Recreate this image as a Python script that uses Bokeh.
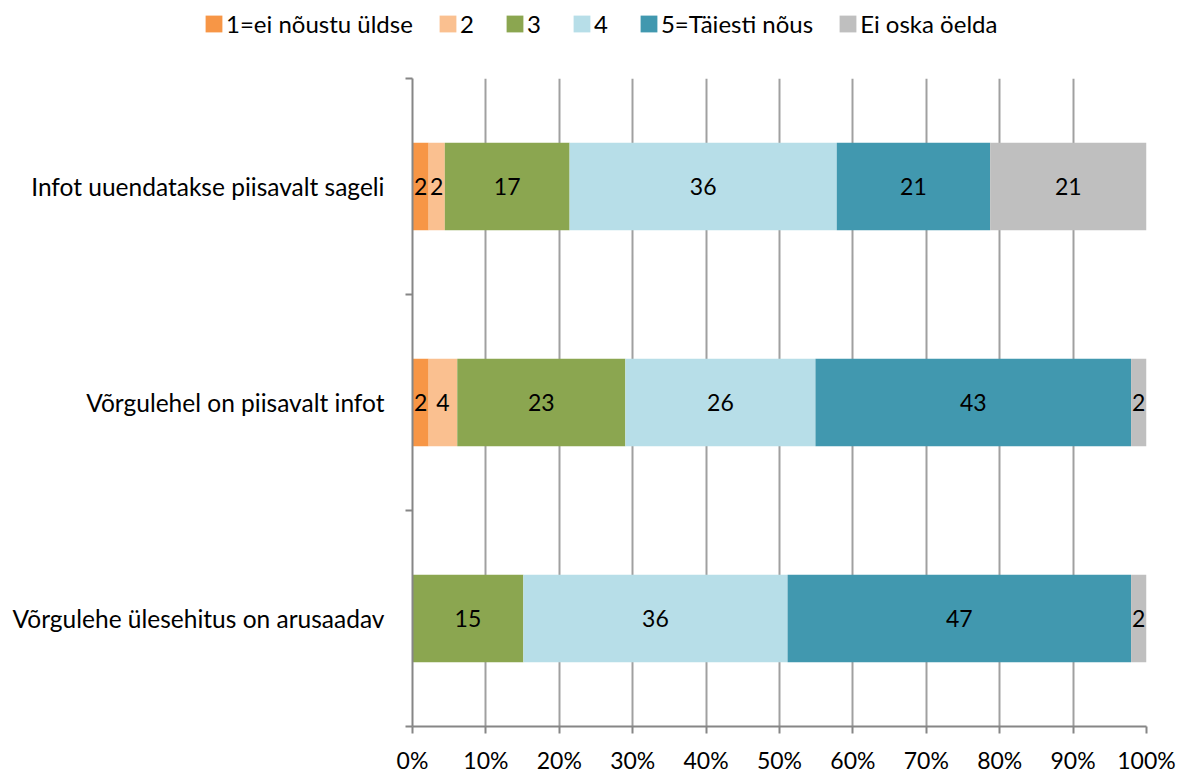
from bokeh.plotting import figure
from bokeh.layouts import column
from bokeh.models import (ColumnDataSource, FixedTicker, PrintfTickFormatter,
                          Legend, LegendItem, Range1d)
from bokeh.core.properties import value
from bokeh.embed import file_html
from bokeh.resources import INLINE

categories = ["Infot uuendatakse piisavalt sageli",
              "Võrgulehel on piisavalt infot",
              "Võrgulehe ülesehitus on arusaadav"]
series_names = ["1=ei nõustu üldse", "2", "3", "4", "5=Täiesti nõus", "Ei oska öelda"]
s1 = [2.2, 2.2, 0.0]
s2 = [2.2, 3.9, 0.0]
s3 = [17.0, 22.9, 15.1]
s4 = [36.4, 25.9, 36.0]
s5 = [20.9, 43.0, 46.8]
s6 = [21.3, 2.1, 2.1]
x_ticks = [0, 10, 20, 30, 40, 50, 60, 70, 80, 90, 100]

colors = ["#F79646", "#FAC090", "#8BA650", "#B7DEE8", "#4198AF", "#BFBFBF"]
FONT = "Lato"
W = 1179
LEG_H = 50

series = [s1, s2, s3, s4, s5, s6]
n = len(categories)
ypos = [n - i - 0.5 for i in range(n)]

p = figure(width=W, height=776 - LEG_H, output_backend="svg", toolbar_location=None,
           x_range=Range1d(0, 100), y_range=Range1d(0, 3), frame_align=False,
           min_border_left=412, min_border_right=W - 1146, min_border_top=78 - LEG_H,
           min_border_bottom=46)
p.outline_line_color = None
p.background_fill_color = "white"
p.border_fill_color = "white"

left = [0.0] * n
for name, vals, col in zip(series_names, series, colors):
    right = [l + v for l, v in zip(left, vals)]
    src = ColumnDataSource(dict(y=ypos, left=left, right=right, v=vals,
                                mid=[(l + r) / 2 for l, r in zip(left, right)],
                                lab=[str(int(round(v))) if v > 0 else "" for v in vals]))
    p.hbar(y="y", left="left", right="right", height=0.405, source=src,
           fill_color=col, line_color=None)
    p.text(x="mid", y="y", text="lab", source=src, text_align="center",
           text_baseline="middle", text_font=value(FONT), text_font_size="23px",
           text_color="black")
    left = right

# axes
xa = p.xaxis[0]
xa.ticker = FixedTicker(ticks=x_ticks)
xa.formatter = PrintfTickFormatter(format="%d%%")
xa.axis_line_color = "#868686"
xa.axis_line_width = 2
xa.major_tick_line_color = "#868686"
xa.major_tick_line_width = 2
xa.major_tick_out = 7
xa.major_tick_in = 0
xa.minor_tick_line_color = None
xa.major_label_text_font = FONT
xa.major_label_text_font_size = "23px"
xa.major_label_text_color = "black"
xa.major_label_standoff = 12

ya = p.yaxis[0]
ya.ticker = FixedTicker(ticks=ypos, minor_ticks=[0, 1, 2, 3])
ya.major_label_overrides = {y: c for y, c in zip(ypos, categories)}
ya.axis_line_color = "#868686"
ya.axis_line_width = 2
ya.major_tick_line_color = None
ya.major_tick_out = 0
ya.major_tick_in = 0
ya.minor_tick_line_color = "#868686"
ya.minor_tick_line_width = 2
ya.minor_tick_out = 7
ya.minor_tick_in = 0
ya.major_label_text_font = FONT
ya.major_label_text_font_size = "24.5px"
ya.major_label_text_color = "black"
ya.major_label_standoff = 21

p.xgrid.ticker = FixedTicker(ticks=x_ticks)
p.xgrid.grid_line_color = "#A0A0A0"
p.xgrid.grid_line_width = 2
p.ygrid.grid_line_color = None

# legend strip on top (proxy glyphs lie outside the strip's visible range)
lf = figure(width=W, height=LEG_H, output_backend="svg", toolbar_location=None,
            x_range=Range1d(0, 1), y_range=Range1d(0, 1), frame_align=False,
            min_border=0, min_border_left=0, min_border_right=0,
            min_border_top=0, min_border_bottom=0)
lf.axis.visible = False
lf.grid.visible = False
lf.outline_line_color = None
items = []
for name, col in zip(series_names, colors):
    r = lf.hbar(y=[-5], left=[0], right=[1], height=0.5, fill_color=col, line_color=None)
    items.append(LegendItem(label=name, renderers=[r]))
legend = Legend(items=items, orientation="horizontal", location=(203, 12),
                glyph_width=21, glyph_height=21, label_standoff=2, spacing=24,
                label_text_font=FONT, label_text_font_size="24px",
                label_text_color="black",
                border_line_color=None, background_fill_alpha=0,
                padding=0, margin=0)
lf.add_layout(legend, "center")

layout = column(lf, p, spacing=0)
open("out.html", "w").write(file_html(layout, INLINE))
